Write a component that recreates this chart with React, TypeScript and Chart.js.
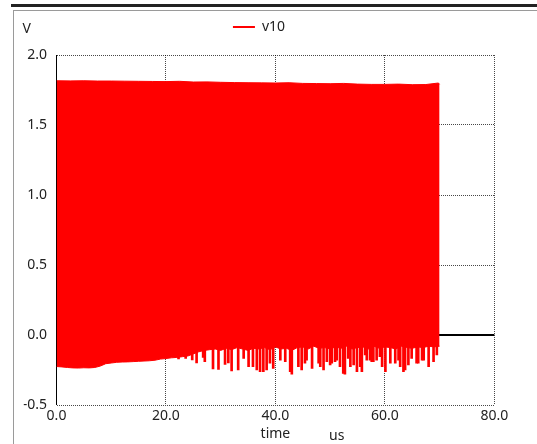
import { useEffect, useRef } from "react";
import { Chart, registerables } from "chart.js";

Chart.register(...registerables);

// ---- data ----
const seriesName = "v10";
const xTickValues = [0, 20, 40, 60, 80];
const yTickValues = [-0.5, 0.0, 0.5, 1.0, 1.5, 2.0];

// upper envelope of the oscillation (us, V)
const upperTimeUs = [0, 2.5, 5, 7.5, 10, 12.5, 15, 17.5, 20, 22.5, 25, 27.5, 30, 32.5, 35, 37.5, 40, 42.5, 45, 47.5, 50, 52.5, 55, 57.5, 60, 62.5, 65, 67.5, 69.8, 70];
const upperV = [1.816, 1.815, 1.816, 1.814, 1.814, 1.813, 1.812, 1.811, 1.81, 1.812, 1.807, 1.808, 1.805, 1.803, 1.802, 1.801, 1.8, 1.802, 1.797, 1.796, 1.795, 1.797, 1.792, 1.79, 1.79, 1.792, 1.788, 1.789, 1.8, 1.79];

// lower envelope (solid part) of the oscillation (us, V)
const lowerTimeUs = [0, 1, 2, 3, 4, 5, 6, 7, 8, 9, 10, 11, 12, 13, 14, 15, 16, 17, 18, 19, 20, 21, 22, 23, 24, 25, 26, 27, 28, 29, 30, 31, 32, 33, 34, 35, 36, 37, 38, 39, 40, 41, 42, 43, 44, 45, 46, 47, 48, 49, 50, 51, 52, 53, 54, 55, 56, 57, 58, 59, 60, 61, 62, 63, 64, 65, 66, 67, 68, 69, 70];
const lowerV = [-0.225, -0.228, -0.232, -0.235, -0.236, -0.234, -0.235, -0.232, -0.222, -0.205, -0.2, -0.195, -0.193, -0.192, -0.19, -0.188, -0.186, -0.184, -0.18, -0.172, -0.168, -0.163, -0.16, -0.155, -0.15, -0.135, -0.12, -0.11, -0.105, -0.1, -0.11, -0.095, -0.105, -0.09, -0.1, -0.11, -0.095, -0.1, -0.09, -0.105, -0.085, -0.1, -0.095, -0.11, -0.09, -0.085, -0.1, -0.08, -0.095, -0.09, -0.1, -0.085, -0.095, -0.08, -0.1, -0.09, -0.085, -0.1, -0.08, -0.095, -0.085, -0.09, -0.1, -0.08, -0.09, -0.095, -0.085, -0.09, -0.08, -0.085, -0.08];

// downward spikes of the oscillation minimum (us, V)
const spikeTimeUs = [22.3, 23.6, 24.8, 25.6, 26.8, 27.1, 28.6, 29.6, 30.8, 31.4, 32.0, 33.2, 34.2, 35.1, 35.9, 36.6, 37.2, 37.8, 38.4, 39.0, 39.6, 40.9, 41.8, 42.7, 43.0, 44.2, 44.8, 45.4, 45.7, 46.7, 47.9, 48.2, 48.8, 49.4, 50.0, 50.3, 50.9, 51.2, 51.8, 52.4, 52.7, 53.3, 53.7, 54.3, 54.9, 55.5, 55.8, 56.4, 56.7, 57.3, 57.6, 57.9, 58.5, 59.1, 59.5, 60.1, 61.0, 61.9, 62.5, 62.8, 63.4, 63.7, 64.3, 64.9, 65.8, 66.1, 66.8, 67.1, 68.0, 68.9, 69.5];
const spikeLowV = [-0.17, -0.168, -0.178, -0.2, -0.16, -0.19, -0.243, -0.245, -0.21, -0.2, -0.257, -0.25, -0.167, -0.226, -0.226, -0.25, -0.262, -0.262, -0.25, -0.202, -0.238, -0.179, -0.19, -0.262, -0.279, -0.226, -0.25, -0.202, -0.179, -0.238, -0.202, -0.226, -0.25, -0.19, -0.214, -0.202, -0.19, -0.179, -0.226, -0.274, -0.279, -0.167, -0.226, -0.214, -0.262, -0.226, -0.262, -0.143, -0.179, -0.179, -0.19, -0.19, -0.179, -0.155, -0.226, -0.262, -0.202, -0.202, -0.179, -0.226, -0.262, -0.25, -0.214, -0.167, -0.202, -0.202, -0.179, -0.179, -0.226, -0.19, -0.143];

const RED = "#ff0000";
const TEXT = "#222222";
const DOT = "rgba(0,0,0,0.72)";
const FONT = "'Noto Sans', 'Open Sans', sans-serif";

const isZero = (ctx: any) => !!ctx.tick && Math.abs(ctx.tick.value) < 1e-9;

export default function App() {
  const canvasRef = useRef<HTMLCanvasElement | null>(null);

  useEffect(() => {
    if (!canvasRef.current) return;
    Chart.defaults.font.family = FONT;
    Chart.defaults.font.size = 14;
    Chart.defaults.color = TEXT;

    const upper = upperTimeUs.map((t, i) => ({ x: t, y: upperV[i] }));
    const lower = lowerTimeUs.map((t, i) => ({ x: t, y: lowerV[i] }));
    const spikes = spikeTimeUs.map((t, i) => ({ x: t, y: [spikeLowV[i], 0] }));

    const chart = new Chart(canvasRef.current, {
      type: "line",
      data: {
        datasets: [
          {
            label: seriesName,
            data: upper,
            borderColor: RED,
            backgroundColor: RED,
            borderWidth: 1,
            pointRadius: 0,
            fill: false,
          },
          {
            label: seriesName + "-min",
            data: lower,
            borderColor: RED,
            backgroundColor: RED,
            borderWidth: 1,
            pointRadius: 0,
            fill: "-1",
          },
          {
            type: "bar",
            label: seriesName + "-spikes",
            data: spikes as any,
            backgroundColor: RED,
            borderWidth: 0,
            barThickness: 2,
          } as any,
        ],
      },
      options: {
        animation: false,
        responsive: false,
        devicePixelRatio: 1,
        layout: { padding: { left: 23.7, right: 42.7, top: 0, bottom: 0 } },
        plugins: {
          tooltip: { enabled: false },
          // invisible spacer between legend and plot area
          title: {
            display: true,
            text: "",
            position: "top",
            weight: 500,
            font: { size: 1, lineHeight: 1 },
            padding: { top: 5, bottom: 5 },
          } as any,
          legend: {
            display: true,
            position: "top",
            align: "center",
            weight: 1000,
            labels: {
              usePointStyle: true,
              pointStyle: "line",
              pointStyleWidth: 22,
              boxHeight: 14,
              padding: 20,
              color: TEXT,
              font: { family: FONT, size: 14 },
              filter: (item: any) => item.datasetIndex === 0,
              generateLabels: (c: any) =>
                Chart.defaults.plugins.legend.labels
                  .generateLabels(c)
                  .map((it: any) => ({ ...it, lineWidth: 2, strokeStyle: RED, fillStyle: RED })),
            },
          } as any,
        },
        scales: {
          x: {
            type: "linear",
            min: 0,
            max: 80,
            offset: false,
            afterBuildTicks: (s: any) => {
              s.ticks = xTickValues.map((v) => ({ value: v }));
            },
            afterFit: (s: any) => {
              s.height = 39;
            },
            ticks: {
              padding: 3,
              maxRotation: 0,
              autoSkip: false,
              color: TEXT,
              font: { family: FONT, size: 14 },
              callback: (v: any) => Number(v).toFixed(1),
            },
            grid: {
              offset: false,
              drawTicks: false,
              color: (ctx: any) => (isZero(ctx) ? "#000" : DOT),
              lineWidth: 1,
            },
            border: {
              display: false,
              dash: (ctx: any) => (isZero(ctx) ? [] : [1, 1]),
            },
            title: {
              display: true,
              text: "time",
              color: TEXT,
              font: { family: FONT, size: 14 },
              padding: { top: 0, bottom: 1.6 },
            },
          },
          y: {
            type: "linear",
            min: -0.5,
            max: 2.0,
            afterBuildTicks: (s: any) => {
              s.ticks = yTickValues.map((v) => ({ value: v }));
            },
            afterFit: (s: any) => {
              s.width = 32.8;
            },
            ticks: {
              padding: 9.5,
              color: TEXT,
              font: { family: FONT, size: 14 },
              callback: (v: any) => Number(v).toFixed(1),
            },
            grid: {
              offset: false,
              drawTicks: false,
              color: (ctx: any) => (isZero(ctx) ? "#000" : DOT),
              lineWidth: (ctx: any) => (isZero(ctx) ? 2 : 1),
            },
            border: {
              display: false,
              dash: (ctx: any) => (isZero(ctx) ? [] : [1, 1]),
            },
          },
        },
      },
    });
    return () => chart.destroy();
  }, []);

  const text: React.CSSProperties = {
    position: "absolute",
    fontFamily: FONT,
    fontSize: 14,
    lineHeight: "17px",
    color: TEXT,
    whiteSpace: "nowrap",
  };

  return (
    <div style={{ position: "absolute", left: 0, top: 0, width: 537, height: 444, overflow: "hidden", background: "#fff" }}>
      <div style={{ position: "absolute", left: 11, top: 4, width: 526, height: 3, background: "#222" }} />
      <div
        style={{
          position: "absolute",
          left: 13,
          top: 10,
          width: 524,
          height: 434,
          boxSizing: "border-box",
          borderLeft: "1px solid #9a9a9a",
          borderTop: "1px solid #9a9a9a",
        }}
      />
      <canvas ref={canvasRef} width={537} height={444} style={{ position: "absolute", left: 0, top: 0 }} />
      <span style={{ ...text, left: 22.5, top: 18.5 }}>V</span>
      <span style={{ ...text, left: 329, top: 425.5 }}>us</span>
    </div>
  );
}
